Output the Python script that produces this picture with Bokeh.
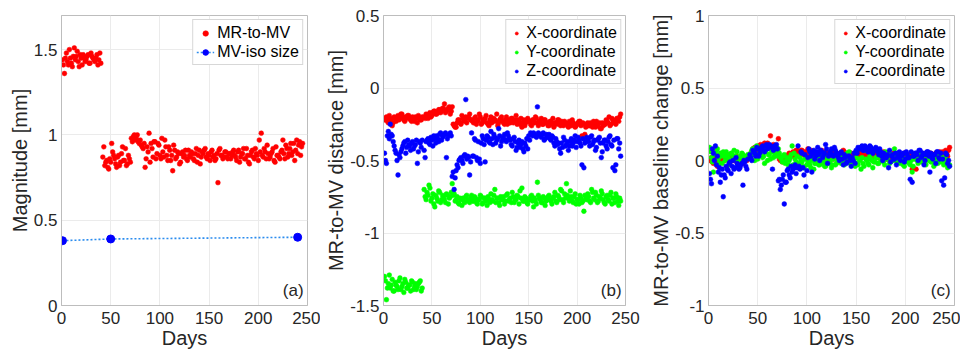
from bokeh.plotting import figure
from bokeh.models import Range1d, FixedTicker, PrintfTickFormatter, Legend, LegendItem, Label
from bokeh.layouts import row
from bokeh.embed import file_html
from bokeh.resources import INLINE

# ---------------- data ----------------
# two interleaved measurement sets (odd days / even days)
days = [1, 3, 5, 7, 9, 11, 13, 15, 17, 19, 21, 23, 25, 27, 29, 31, 33, 35, 37, 39,
        43, 45, 47, 49, 51, 53, 55, 57, 59, 61, 63, 65, 67, 69,
        71, 73, 75, 77, 79, 81, 83, 85, 87, 89,
        91, 93, 95, 97, 99, 101, 103, 105, 107, 109,
        111, 113, 115, 117, 119, 121, 123, 125, 127, 129,
        131, 133, 135, 137, 139, 141, 143, 145, 147, 149,
        151, 153, 155, 157, 159, 161, 163, 165, 167, 169,
        171, 173, 175, 177, 179, 181, 183, 185, 187, 189,
        191, 193, 195, 197, 199, 201, 203, 205, 207, 209,
        211, 213, 215, 217, 219, 221, 223, 225, 227, 229,
        231, 233, 235, 237, 239, 241, 243, 245]
days2 = [2, 4, 6, 8, 10, 12, 14, 16, 18, 20, 22, 24, 26, 28, 30, 32, 34, 36, 38, 40,
         42, 44, 46, 48, 50, 52, 54, 56, 58, 60, 62, 64, 66, 68, 70,
         72, 74, 76, 78, 80, 82, 84, 86, 88, 90,
         92, 94, 96, 98, 100, 102, 104, 106, 108, 110,
         112, 114, 116, 118, 120, 122, 124, 126, 128, 130,
         132, 134, 136, 138, 140, 142, 144, 146, 148, 150,
         152, 154, 156, 158, 160, 162, 164, 166, 168, 170,
         172, 174, 176, 178, 180, 182, 184, 186, 188, 190,
         192, 194, 196, 198, 200, 202, 204, 206, 208, 210,
         212, 214, 216, 218, 220, 222, 224, 226, 228, 230,
         232, 234, 236, 238, 240, 242, 244]

# (a) MR-to-MV magnitude [mm]
mr_to_mv = [1.44, 1.36, 1.48, 1.41, 1.45, 1.40, 1.51, 1.46, 1.43, 1.47, 1.41, 1.45, 1.44, 1.47, 1.42, 1.46, 1.44, 1.45, 1.41, 1.48,
            0.93, 0.84, 0.81, 0.86, 0.95, 0.88, 0.83, 0.87, 0.82, 0.89, 0.85, 0.92, 0.83, 0.86,
            0.98, 0.99, 0.97, 1.00, 0.95, 0.94, 0.92, 0.81, 0.93, 1.01,
            0.95, 0.87, 0.96, 0.89, 0.94, 0.86, 0.90, 0.97, 0.88, 0.93,
            0.85, 0.79, 0.91, 0.87, 0.89, 0.84, 0.90, 0.88, 0.86, 0.91,
            0.87, 0.89, 0.85, 0.92, 0.88, 0.83, 0.90, 0.91, 0.87, 0.89,
            0.85, 0.91, 0.88, 0.86, 0.72, 0.92, 0.88, 0.87, 0.90, 0.86,
            0.89, 0.88, 0.91, 0.87, 0.90, 0.84, 0.89, 0.92, 0.86, 0.88,
            0.83, 0.90, 0.87, 0.92, 0.88, 0.97, 1.01, 0.87, 0.90, 0.94,
            0.86, 0.89, 0.92, 0.84, 0.88, 0.87, 0.90, 0.97, 0.86, 0.92,
            0.89, 0.95, 0.90, 0.85, 0.97, 0.94, 0.88, 0.95]
mr_to_mv2 = [1.41, 1.45, 1.43, 1.50, 1.42, 1.46, 1.44, 1.49, 1.40, 1.45, 1.47, 1.43, 1.46, 1.42, 1.48, 1.45, 1.43, 1.47, 1.44, 1.42,
             0.87, 0.82, 0.85, 0.80, 0.84, 0.90, 0.86, 0.81, 0.88, 0.84, 0.93, 0.85, 0.82, 0.88, 0.84,
             0.96, 1.00, 0.98, 0.96, 0.97, 0.93, 0.95, 0.86, 0.90, 0.84,
             0.92, 0.96, 0.86, 0.95, 0.88, 0.98, 0.87, 0.93, 0.85, 0.91,
             0.88, 0.94, 0.86, 0.90, 0.83, 0.89, 0.87, 0.91, 0.85, 0.88,
             0.90, 0.86, 0.89, 0.84, 0.91, 0.87, 0.89, 0.92, 0.86, 0.88,
             0.90, 0.87, 0.85, 0.89, 0.91, 0.88, 0.86, 0.90, 0.87, 0.89,
             0.86, 0.90, 0.88, 0.85, 0.91, 0.87, 0.89, 0.86, 0.92, 0.84,
             0.88, 0.91, 0.86, 0.89, 0.85, 0.90, 0.88, 0.92, 0.86, 0.89,
             0.87, 0.90, 0.85, 0.93, 0.88, 0.86, 0.91, 0.89, 0.94, 0.87,
             0.92, 0.88, 0.95, 0.91, 0.89, 0.96, 0.93]

iso_days = [1, 50, 240]
iso_size = [0.38, 0.39, 0.40]

# (b) MR-to-MV distance per coordinate [mm]
dist_x = [-0.22, -0.20, -0.24, -0.21, -0.26, -0.20, -0.23, -0.19, -0.21, -0.18, -0.22, -0.20, -0.19, -0.21, -0.23, -0.22, -0.20, -0.24, -0.21, -0.22,
          -0.21, -0.19, -0.18, -0.20, -0.17, -0.16, -0.18, -0.15, -0.17, -0.14, -0.11, -0.16, -0.14, -0.18,
          -0.13, -0.26, -0.27, -0.22, -0.24, -0.19, -0.23, -0.20, -0.21, -0.18,
          -0.22, -0.24, -0.20, -0.23, -0.18, -0.25, -0.22, -0.21, -0.24, -0.26,
          -0.20, -0.23, -0.22, -0.18, -0.24, -0.21, -0.23, -0.25, -0.20, -0.22,
          -0.24, -0.21, -0.23, -0.19, -0.22, -0.25, -0.27, -0.22, -0.24, -0.21,
          -0.23, -0.26, -0.22, -0.20, -0.24, -0.23, -0.21, -0.25, -0.22, -0.24,
          -0.26, -0.23, -0.21, -0.24, -0.25, -0.22, -0.26, -0.24, -0.23, -0.25,
          -0.27, -0.24, -0.22, -0.25, -0.26, -0.24, -0.23, -0.33, -0.25, -0.27,
          -0.24, -0.26, -0.25, -0.23, -0.27, -0.25, -0.24, -0.28, -0.26, -0.25,
          -0.23, -0.20, -0.25, -0.22, -0.24, -0.21, -0.23, -0.18]
dist_x2 = [-0.21, -0.23, -0.19, -0.22, -0.24, -0.21, -0.20, -0.22, -0.18, -0.20, -0.23, -0.21, -0.19, -0.22, -0.20, -0.23, -0.21, -0.19, -0.22, -0.20,
           -0.20, -0.18, -0.21, -0.17, -0.19, -0.16, -0.18, -0.17, -0.15, -0.16, -0.14, -0.17, -0.15, -0.13, -0.16,
           -0.25, -0.27, -0.24, -0.22, -0.25, -0.21, -0.22, -0.24, -0.20, -0.22,
           -0.23, -0.21, -0.25, -0.22, -0.20, -0.24, -0.23, -0.19, -0.25, -0.22,
           -0.24, -0.21, -0.23, -0.26, -0.22, -0.20, -0.24, -0.22, -0.25, -0.23,
           -0.21, -0.24, -0.22, -0.25, -0.23, -0.21, -0.24, -0.26, -0.22, -0.23,
           -0.25, -0.22, -0.24, -0.21, -0.26, -0.23, -0.25, -0.22, -0.24, -0.26,
           -0.23, -0.25, -0.27, -0.24, -0.22, -0.25, -0.23, -0.26, -0.24, -0.25,
           -0.23, -0.26, -0.24, -0.27, -0.25, -0.23, -0.26, -0.24, -0.32, -0.25,
           -0.26, -0.24, -0.27, -0.25, -0.23, -0.26, -0.28, -0.24, -0.25, -0.22,
           -0.24, -0.26, -0.21, -0.23, -0.25, -0.22, -0.20]
dist_y = [-1.30, -1.46, -1.35, -1.38, -1.32, -1.40, -1.36, -1.39, -1.31, -1.37, -1.41, -1.34, -1.38, -1.36, -1.33, -1.39, -1.35, -1.37, -1.34, -1.40,
          -0.75, -0.72, -0.67, -0.78, -0.73, -0.82, -0.76, -0.71, -0.79, -0.74, -0.77, -0.73, -0.80, -0.75,
          -0.66, -0.73, -0.77, -0.79, -0.76, -0.81, -0.78, -0.75, -0.77, -0.79,
          -0.74, -0.78, -0.76, -0.80, -0.77, -0.75, -0.79, -0.76, -0.81, -0.77,
          -0.73, -0.78, -0.70, -0.76, -0.79, -0.75, -0.77, -0.80, -0.74, -0.78,
          -0.76, -0.72, -0.79, -0.77, -0.75, -0.71, -0.69, -0.78, -0.76, -0.80,
          -0.77, -0.74, -0.82, -0.78, -0.65, -0.76, -0.79, -0.75, -0.81, -0.77,
          -0.74, -0.78, -0.76, -0.72, -0.79, -0.75, -0.70, -0.77, -0.73, -0.66,
          -0.76, -0.71, -0.78, -0.75, -0.80, -0.77, -0.74, -0.79, -0.85, -0.76,
          -0.73, -0.78, -0.70, -0.76, -0.72, -0.79, -0.75, -0.71, -0.77, -0.80,
          -0.74, -0.78, -0.72, -0.76, -0.79, -0.75, -0.81, -0.78]
dist_y2 = [-1.33, -1.38, -1.29, -1.36, -1.40, -1.34, -1.37, -1.33, -1.39, -1.35, -1.32, -1.38, -1.36, -1.40, -1.34, -1.37, -1.39, -1.35, -1.33, -1.38,
           -0.70, -0.77, -0.74, -0.69, -0.76, -0.80, -0.74, -0.78, -0.72, -0.77, -0.75, -0.79, -0.74, -0.76, -0.72,
           -0.74, -0.78, -0.75, -0.80, -0.77, -0.76, -0.79, -0.74, -0.78, -0.76,
           -0.78, -0.75, -0.79, -0.77, -0.74, -0.80, -0.76, -0.78, -0.75, -0.79,
           -0.77, -0.74, -0.79, -0.76, -0.81, -0.77, -0.75, -0.78, -0.73, -0.77,
           -0.79, -0.75, -0.77, -0.74, -0.80, -0.76, -0.78, -0.75, -0.79, -0.77,
           -0.75, -0.78, -0.76, -0.80, -0.74, -0.77, -0.79, -0.76, -0.78, -0.75,
           -0.77, -0.80, -0.75, -0.78, -0.74, -0.77, -0.71, -0.79, -0.76, -0.74,
           -0.78, -0.75, -0.79, -0.73, -0.77, -0.80, -0.76, -0.78, -0.74, -0.77,
           -0.75, -0.79, -0.72, -0.77, -0.74, -0.78, -0.76, -0.73, -0.79, -0.75,
           -0.77, -0.74, -0.80, -0.76, -0.73, -0.78, -0.76]
dist_z = [-0.45, -0.52, -0.30, -0.25, -0.33, -0.40, -0.45, -0.60, -0.48, -0.42, -0.38, -0.45, -0.36, -0.40, -0.38, -0.42, -0.39, -0.52, -0.37, -0.41,
          -0.48, -0.36, -0.38, -0.34, -0.40, -0.35, -0.33, -0.37, -0.31, -0.34, -0.32, -0.48, -0.33, -0.31,
          -0.61, -0.70, -0.57, -0.55, -0.49, -0.50, -0.47, -0.08, -0.47, -0.60,
          -0.31, -0.47, -0.36, -0.50, -0.49, -0.38, -0.35, -0.51, -0.33, -0.37,
          -0.30, -0.39, -0.34, -0.36, -0.28, -0.40, -0.35, -0.32, -0.37, -0.33,
          -0.36, -0.40, -0.34, -0.43, -0.38, -0.41, -0.37, -0.44, -0.40, -0.42,
          -0.36, -0.32, -0.31, -0.33, -0.13, -0.32, -0.34, -0.31, -0.35, -0.33,
          -0.32, -0.36, -0.34, -0.40, -0.37, -0.38, -0.45, -0.41, -0.36, -0.39,
          -0.43, -0.37, -0.40, -0.36, -0.41, -0.34, -0.38, -0.53, -0.55, -0.37,
          -0.35, -0.40, -0.33, -0.37, -0.43, -0.36, -0.34, -0.48, -0.38, -0.36,
          -0.42, -0.34, -0.39, -0.55, -0.57, -0.35, -0.42, -0.47]
dist_z2 = [-0.50, -0.33, -0.35, -0.32, -0.37, -0.43, -0.50, -0.46, -0.44, -0.40, -0.37, -0.41, -0.39, -0.43, -0.37, -0.40, -0.36, -0.44, -0.38, -0.36,
           -0.43, -0.37, -0.35, -0.39, -0.36, -0.33, -0.38, -0.35, -0.32, -0.36, -0.33, -0.31, -0.35, -0.32, -0.33,
           -0.58, -0.62, -0.53, -0.50, -0.48, -0.52, -0.46, -0.49, -0.48, -0.51,
           -0.47, -0.35, -0.48, -0.37, -0.52, -0.33, -0.39, -0.36, -0.34, -0.38,
           -0.35, -0.32, -0.38, -0.35, -0.33, -0.37, -0.34, -0.36, -0.31, -0.35,
           -0.39, -0.35, -0.37, -0.41, -0.36, -0.39, -0.42, -0.38, -0.35, -0.33,
           -0.31, -0.33, -0.32, -0.34, -0.31, -0.33, -0.32, -0.36, -0.32, -0.34,
           -0.35, -0.33, -0.38, -0.35, -0.39, -0.42, -0.38, -0.34, -0.40, -0.37,
           -0.40, -0.35, -0.38, -0.33, -0.37, -0.36, -0.40, -0.35, -0.38, -0.34,
           -0.37, -0.34, -0.39, -0.36, -0.41, -0.35, -0.38, -0.44, -0.36, -0.40,
           -0.37, -0.33, -0.40, -0.36, -0.53, -0.35, -0.38]

# (c) MR-to-MV baseline change per coordinate [mm]
base_x = [0.00, 0.02, -0.02, 0.01, -0.04, 0.02, -0.01, 0.03, 0.01, 0.04, 0.00, 0.02, 0.03, 0.01, -0.01, 0.00, 0.02, -0.02, 0.01, 0.00,
          0.05, 0.08, 0.09, 0.06, 0.10, 0.11, 0.08, 0.12, 0.09, 0.10, 0.17, 0.08, 0.10, 0.07,
          0.15, 0.00, -0.01, 0.03, 0.01, 0.04, 0.02, 0.05, 0.03, 0.07,
          0.06, 0.04, 0.07, 0.05, 0.03, 0.08, 0.05, 0.02, 0.06, 0.04,
          0.03, 0.05, 0.07, 0.02, 0.06, 0.04, 0.03, 0.05, 0.01, 0.06,
          0.04, 0.02, 0.05, 0.07, 0.03, 0.04, 0.01, 0.05, 0.03, 0.02,
          0.04, 0.06, 0.02, 0.03, 0.05, 0.01, 0.04, 0.07, 0.03, 0.05,
          0.02, 0.04, 0.06, 0.03, 0.05, 0.01, 0.03, 0.04, 0.02, 0.05,
          0.03, 0.01, 0.04, 0.02, 0.05, 0.03, 0.00, 0.02, -0.06, 0.04,
          -0.06, 0.03, 0.01, 0.04, 0.02, 0.05, 0.03, 0.01, 0.04, 0.02,
          0.05, 0.03, 0.06, 0.02, 0.04, 0.07, 0.03, 0.09]
base_x2 = [0.01, -0.01, 0.02, 0.00, -0.03, 0.01, 0.02, 0.00, 0.03, 0.01, -0.01, 0.02, 0.00, 0.03, 0.01, 0.02, -0.01, 0.00, 0.02, 0.01,
           0.03, 0.06, 0.08, 0.07, 0.09, 0.10, 0.08, 0.11, 0.09, 0.12, 0.10, 0.08, 0.11, 0.09, 0.06,
           0.01, 0.02, 0.00, 0.02, 0.03, 0.05, 0.04, 0.06, 0.05, 0.07,
           0.05, 0.07, 0.04, 0.06, 0.03, 0.05, 0.07, 0.04, 0.02, 0.05,
           0.04, 0.06, 0.03, 0.05, 0.02, 0.04, 0.06, 0.03, 0.05, 0.04,
           0.02, 0.05, 0.03, 0.06, 0.04, 0.02, 0.05, 0.03, 0.04, 0.06,
           0.03, 0.05, 0.02, 0.04, 0.06, 0.03, 0.05, 0.02, 0.04, 0.03,
           0.05, 0.02, 0.04, 0.06, 0.03, 0.01, 0.04, 0.02, 0.05, 0.03,
           0.02, 0.04, 0.01, 0.03, 0.05, 0.02, 0.04, 0.01, 0.03, 0.02,
           0.04, 0.02, 0.05, 0.03, 0.01, 0.04, 0.02, 0.05, 0.03, 0.04,
           0.02, 0.05, 0.03, 0.06, 0.04, 0.05, 0.07]
base_y = [0.09, 0.02, -0.08, 0.05, 0.08, -0.02, 0.03, 0.06, 0.00, 0.04, -0.03, 0.05, 0.01, 0.03, 0.06, -0.01, 0.02, 0.04, 0.00, 0.03,
          0.05, 0.08, 0.00, 0.10, 0.03, 0.06, 0.02, -0.02, 0.08, 0.04, 0.01, 0.06, 0.03, 0.09,
          0.08, 0.02, -0.01, 0.04, 0.00, -0.03, 0.02, 0.10, 0.05, -0.01,
          -0.04, 0.02, -0.01, -0.05, 0.01, -0.02, -0.03, 0.00, -0.06, -0.02,
          0.02, -0.03, 0.04, -0.01, -0.04, 0.00, -0.02, -0.05, 0.01, -0.03,
          -0.01, 0.03, -0.02, 0.00, 0.02, 0.05, 0.06, -0.01, 0.00, -0.04,
          -0.02, 0.01, -0.06, -0.02, 0.07, 0.00, -0.03, 0.01, -0.05, -0.01,
          0.02, -0.02, 0.00, 0.04, -0.03, 0.01, 0.05, -0.01, 0.03, 0.08,
          0.00, 0.05, -0.02, 0.01, -0.04, -0.01, 0.02, -0.03, -0.08, 0.01,
          0.03, -0.02, 0.06, 0.00, 0.04, -0.03, 0.01, 0.05, -0.01, -0.04,
          0.02, -0.02, 0.04, 0.00, -0.03, 0.01, -0.05, -0.03]
base_y2 = [0.06, -0.01, 0.04, 0.07, 0.01, 0.05, -0.02, 0.03, 0.06, 0.02, 0.00, 0.04, 0.07, 0.01, -0.02, 0.03, 0.05, 0.00, 0.02, 0.04,
           0.02, 0.07, 0.04, 0.09, 0.01, 0.05, 0.08, 0.03, 0.06, 0.00, 0.04, 0.07, 0.02, 0.05, 0.03,
           0.05, 0.01, 0.03, -0.02, 0.02, 0.00, 0.04, -0.03, 0.01, 0.03,
           -0.02, 0.00, -0.04, 0.01, -0.03, -0.01, -0.05, 0.02, -0.02, 0.00,
           -0.03, 0.01, -0.02, -0.04, 0.02, -0.01, 0.00, -0.03, 0.03, -0.02,
           0.01, -0.01, 0.02, -0.03, 0.00, 0.03, -0.02, 0.01, -0.01, 0.02,
           -0.03, 0.00, 0.02, -0.04, 0.01, -0.02, 0.03, 0.00, -0.01, 0.02,
           -0.02, 0.03, 0.01, -0.01, 0.06, 0.02, -0.02, 0.04, 0.00, 0.03,
           -0.01, 0.02, 0.00, -0.03, 0.01, 0.03, -0.02, 0.00, -0.04, 0.02,
           0.00, 0.03, -0.01, 0.02, -0.02, 0.04, 0.00, -0.01, 0.03, -0.02,
           0.01, 0.03, -0.01, 0.02, -0.02, 0.00, -0.04]
base_z = [-0.09, -0.16, 0.05, 0.10, 0.03, -0.05, -0.10, -0.25, -0.12, -0.06, -0.02, -0.09, 0.00, -0.05, -0.02, -0.06, -0.03, -0.17, -0.01, -0.06,
          0.02, 0.07, 0.05, 0.09, 0.03, 0.08, 0.10, 0.06, 0.11, 0.09, 0.10, -0.06, 0.10, 0.11,
          -0.14, -0.20, -0.13, -0.30, -0.15, -0.06, -0.12, -0.08, -0.05, -0.09,
          0.10, -0.06, 0.05, -0.10, -0.18, 0.02, 0.06, -0.08, 0.07, 0.03,
          0.09, 0.00, 0.06, 0.04, 0.11, -0.02, 0.05, 0.08, 0.03, 0.07,
          0.04, 0.00, 0.06, -0.03, 0.02, -0.01, 0.03, -0.04, 0.00, -0.02,
          0.05, 0.08, 0.09, 0.07, 0.10, 0.08, 0.06, 0.09, 0.05, 0.07,
          0.08, 0.04, 0.06, 0.00, 0.03, 0.02, -0.05, -0.01, 0.04, 0.01,
          -0.03, 0.03, 0.00, 0.04, -0.01, 0.06, 0.02, -0.13, -0.15, 0.03,
          0.05, 0.00, 0.07, 0.03, -0.03, 0.04, 0.06, -0.08, 0.02, 0.04,
          -0.02, 0.06, 0.01, -0.14, -0.17, 0.05, -0.02, -0.04]
base_z2 = [-0.13, 0.08, 0.00, -0.03, -0.08, -0.15, -0.06, -0.10, -0.04, -0.07, -0.01, -0.04, -0.06, 0.02, -0.03, -0.05, -0.02, 0.00, -0.04, 0.01,
           0.04, 0.00, 0.06, 0.03, 0.08, 0.05, 0.09, 0.07, 0.10, 0.08, 0.11, 0.09, 0.07, 0.10, 0.08,
           -0.13, -0.17, -0.10, -0.15, -0.07, -0.10, -0.04, -0.06, -0.03, -0.05,
           -0.04, 0.06, -0.05, 0.04, -0.07, 0.08, 0.03, 0.05, 0.01, 0.06,
           0.04, 0.07, 0.02, 0.05, 0.08, 0.03, 0.06, 0.04, 0.09, 0.05,
           0.02, 0.05, 0.01, 0.04, -0.02, 0.03, 0.00, 0.02, 0.05, 0.07,
           0.09, 0.08, 0.10, 0.07, 0.09, 0.06, 0.10, 0.08, 0.07, 0.09,
           0.06, 0.08, 0.03, 0.05, 0.02, 0.04, 0.07, 0.03, 0.01, 0.05,
           0.02, 0.06, 0.03, 0.05, 0.01, 0.04, 0.02, 0.06, 0.03, 0.05,
           0.04, 0.07, 0.02, 0.05, 0.00, 0.06, 0.03, 0.05, 0.01, 0.04,
           0.06, 0.02, 0.05, 0.01, -0.12, 0.04, 0.00]

x_ticks = [0, 50, 100, 150, 200, 250]
a_ticks = [0, 0.5, 1, 1.5]
b_ticks = [-1.5, -1, -0.5, 0, 0.5]
c_ticks = [-1, -0.5, 0, 0.5, 1]

for name, arr in [("mr", mr_to_mv), ("dx", dist_x), ("dy", dist_y), ("dz", dist_z),
                  ("bx", base_x), ("by", base_y), ("bz", base_z)]:
    assert len(arr) == len(days), (name, len(arr), len(days))
for name, arr in [("mr2", mr_to_mv2), ("dx2", dist_x2), ("dy2", dist_y2), ("dz2", dist_z2),
                  ("bx2", base_x2), ("by2", base_y2), ("bz2", base_z2)]:
    assert len(arr) == len(days2), (name, len(arr), len(days2))

# ---------------- style ----------------
FONT = "Liberation Sans"
TXT = "#262626"
BOX = "#bdbdbd"
GRID = "#ebebeb"
RED = "#ff0000"
GREEN = "#00ff00"
BLUE = "#0000ff"


def make_fig(fw, left, right, yr, yticks, ylabel):
    p = figure(frame_width=fw, frame_height=290, output_backend="svg", toolbar_location=None,
               x_range=Range1d(0, 250), y_range=Range1d(*yr),
               min_border_left=left, min_border_right=right,
               min_border_top=15, min_border_bottom=0)
    p.background_fill_color = "white"
    p.border_fill_color = "white"
    p.outline_line_color = BOX
    p.outline_line_width = 1
    p.xaxis.ticker = FixedTicker(ticks=x_ticks)
    p.yaxis.ticker = FixedTicker(ticks=yticks)
    p.yaxis.formatter = PrintfTickFormatter(format="%g")
    p.xaxis.axis_label = "Days"
    p.yaxis.axis_label = ylabel
    for ax in (p.xaxis[0], p.yaxis[0]):
        ax.axis_line_color = BOX
        ax.major_tick_line_color = None
        ax.minor_tick_line_color = None
        ax.major_tick_out = 0
        ax.major_tick_in = 0
        ax.major_label_text_font = FONT
        ax.major_label_text_font_size = "17px"
        ax.major_label_text_color = TXT
        ax.axis_label_text_font = FONT
        ax.axis_label_text_font_size = "20px"
        ax.axis_label_text_font_style = "normal"
        ax.axis_label_text_color = TXT
    p.xaxis.major_label_standoff = 6
    p.xaxis.axis_label_standoff = 0
    p.yaxis.major_label_standoff = 4
    p.yaxis.axis_label_standoff = 0
    p.xgrid.grid_line_color = GRID
    p.ygrid.grid_line_color = GRID
    p.xgrid.ticker = FixedTicker(ticks=x_ticks)
    p.ygrid.ticker = FixedTicker(ticks=yticks)
    return p


def dots(p, y, y2, color):
    r = p.scatter(days, y, size=4.8, fill_color=color, line_color=color, line_width=0.5)
    p.scatter(days2, y2, size=4.8, fill_color=color, line_color=color, line_width=0.5)
    return r


def make_legend(items, gw, gh):
    return Legend(items=items, location="top_right", margin=4, padding=3, spacing=0,
                  glyph_width=gw, glyph_height=gh, label_height=19, label_standoff=3,
                  label_text_font=FONT, label_text_font_size="16px", label_text_color="black",
                  border_line_color="#b0b0b0", background_fill_color="white",
                  background_fill_alpha=1)


def tag(p, text, y):
    p.add_layout(Label(x=246, y=y, text=text, text_align="right", text_baseline="bottom",
                       text_font=FONT, text_font_size="17px", text_color=TXT))


# ---- (a) ----
pa = make_fig(246, 61, 13, (0, 1.7), a_ticks, "Magnitude [mm]")
r_mr = dots(pa, mr_to_mv, mr_to_mv2, RED)
r_iso_l = pa.line(iso_days, iso_size, line_color="#2b8cee", line_width=1.6, line_dash="2 2")
r_iso_m = pa.scatter(iso_days, iso_size, size=8, fill_color=BLUE, line_color=BLUE)
pa.add_layout(make_legend([LegendItem(label="MR-to-MV", renderers=[r_mr]),
                           LegendItem(label="MV-iso size", renderers=[r_iso_l, r_iso_m])], 18, 14))
tag(pa, "(a)", 0.03)

# ---- (b) ----
pb = make_fig(242, 63, 15, (-1.5, 0.5), b_ticks, "MR-to-MV distance [mm]")
rbx = dots(pb, dist_x, dist_x2, RED)
rby = dots(pb, dist_y, dist_y2, GREEN)
rbz = dots(pb, dist_z, dist_z2, BLUE)
pb.add_layout(make_legend([LegendItem(label="X-coordinate", renderers=[rbx]),
                           LegendItem(label="Y-coordinate", renderers=[rby]),
                           LegendItem(label="Z-coordinate", renderers=[rbz])], 14, 8))
tag(pb, "(b)", -1.465)

# ---- (c) ----
pc = make_fig(246, 68, 6, (-1, 1), c_ticks, "MR-to-MV baseline change [mm]")
rcx = dots(pc, base_x, base_x2, RED)
rcy = dots(pc, base_y, base_y2, GREEN)
rcz = dots(pc, base_z, base_z2, BLUE)
pc.add_layout(make_legend([LegendItem(label="X-coordinate", renderers=[rcx]),
                           LegendItem(label="Y-coordinate", renderers=[rcy]),
                           LegendItem(label="Z-coordinate", renderers=[rcz])], 14, 8))
tag(pc, "(c)", -0.965)

layout = row(pa, pb, pc)
open("out.html", "w").write(file_html(layout, INLINE))
